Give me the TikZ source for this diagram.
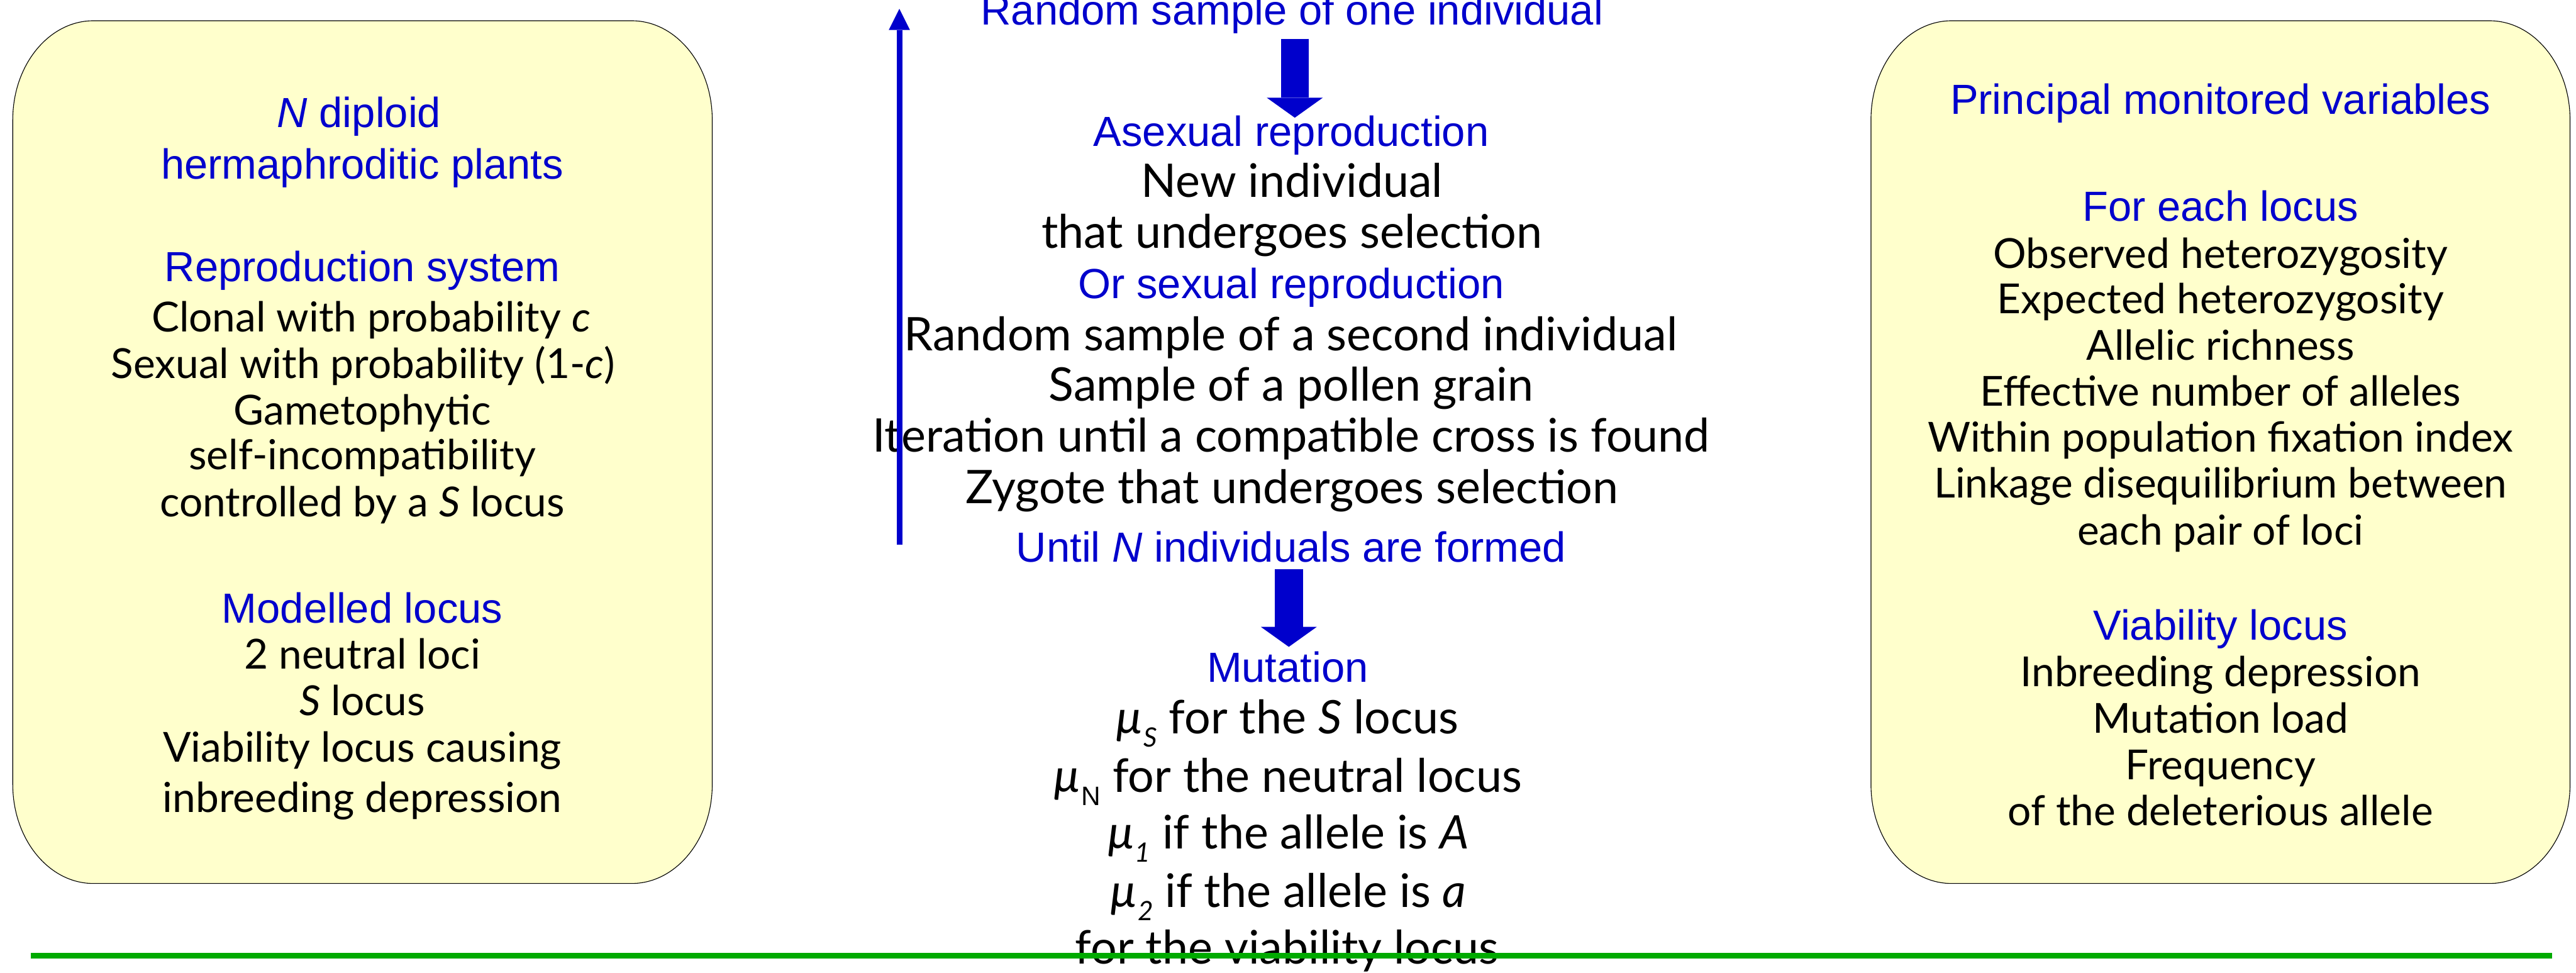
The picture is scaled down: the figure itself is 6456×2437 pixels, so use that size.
\documentclass[tikz,border=0pt]{standalone}
\usepackage{fontspec}
\setmainfont{Lato}
\newfontfamily\arialf{Liberation Sans}
\usetikzlibrary{arrows.meta}
\definecolor{hblue}{RGB}{0,0,204}
\definecolor{boxfill}{RGB}{255,255,204}
\definecolor{lgreen}{RGB}{0,170,0}
\newcommand{\mysub}[1]{\raisebox{-0.28em}{\fontsize{19}{20}\selectfont #1}}
\begin{document}
\begin{tikzpicture}[x=0.01cm,y=0.01cm,
  head/.style={text=hblue, font=\arialf\fontsize{30}{36}\selectfont, anchor=base, inner sep=0pt},
  sidetxt/.style={text=black, font=\fontsize{29.5}{35}\selectfont, anchor=base, inner sep=0pt},
  midtxt/.style={text=black, font=\fontsize{33}{38}\selectfont, anchor=base, inner sep=0pt},
  panel/.style={draw=black, line width=0.5pt, fill=boxfill},
  flowarrow/.style={draw=hblue, line width=0.14cm, -{Triangle[width=0.53cm,length=0.53cm,line width=0pt]}},
  blockarrow/.style={draw=hblue, line width=0.70cm, -{Triangle[width=1.40cm,length=0.50cm,line width=0pt]}},
  ground/.style={draw=lgreen, line width=0.14cm}
]
\useasboundingbox (0,0) rectangle (6456,-2437);
\clip (0,0) rectangle (6456,-2437);

% left panel
\path[panel] (234,-52) -- (1583,-52)
  arc[start angle=90,end angle=0,x radius=202,y radius=248] -- (1785,-1966)
  arc[start angle=0,end angle=-90,x radius=202,y radius=248] -- (234,-2214)
  arc[start angle=-90,end angle=-180,x radius=202,y radius=248] -- (32,-300)
  arc[start angle=180,end angle=90,x radius=202,y radius=248] -- cycle;

% right panel
\path[panel] (4891,-52) -- (6239,-52)
  arc[start angle=90,end angle=0,x radius=202,y radius=248] -- (6441,-1966)
  arc[start angle=0,end angle=-90,x radius=202,y radius=248] -- (4891,-2214)
  arc[start angle=-90,end angle=-180,x radius=202,y radius=248] -- (4689,-300)
  arc[start angle=180,end angle=90,x radius=202,y radius=248] -- cycle;

% left panel text
\node[head] (L1) at (900,-319) {\itshape N\upshape\ diploid};
\node[head] (L2) at (908,-448) {hermaphroditic plants};
\node[head] (L3) at (908,-705) {Reproduction system};
\node[sidetxt] (L4) at (930,-832) {Clonal with probability \textit{c}};
\node[sidetxt] (L5) at (910,-948) {Sexual with probability (1-\textit{c})};
\node[sidetxt] (L6) at (908,-1064) {Gametophytic};
\node[sidetxt] (L7) at (908,-1177) {self-incompatibility};
\node[sidetxt] (L8) at (908,-1295) {controlled by a \textit{S} locus};
\node[head] (L9) at (908,-1561) {Modelled locus};
\node[sidetxt] (L10) at (908,-1677) {2 neutral loci};
\node[sidetxt] (L11) at (908,-1793) {\textit{S} locus};
\node[sidetxt] (L12) at (908,-1910) {Viability locus causing};
\node[sidetxt] (L13) at (908,-2035) {inbreeding depression};

% right panel text
\node[head] (R1) at (5565,-286) {Principal monitored variables};
\node[head] (R2) at (5565,-554) {For each locus};
\node[sidetxt] (R3) at (5565,-672) {Observed heterozygosity};
\node[sidetxt] (R4) at (5565,-786) {Expected heterozygosity};
\node[sidetxt] (R5) at (5565,-902) {Allelic richness};
\node[sidetxt] (R6) at (5565,-1018) {Effective number of alleles};
\node[sidetxt] (R7) at (5565,-1132) {Within population fixation index};
\node[sidetxt] (R8) at (5565,-1248) {Linkage disequilibrium between};
\node[sidetxt] (R9) at (5565,-1366) {each pair of loci};
\node[head] (R10) at (5565,-1604) {Viability locus};
\node[sidetxt] (R11) at (5565,-1721) {Inbreeding depression};
\node[sidetxt] (R12) at (5565,-1837) {Mutation load};
\node[sidetxt] (R13) at (5565,-1953) {Frequency};
\node[sidetxt] (R14) at (5565,-2068) {of the deleterious allele};

% centre column
\node[head] (C1) at (3238,-62) {Random sample of one individual};
\node[head] (C2) at (3236,-367) {Asexual reproduction};
\node[midtxt] (C3) at (3238,-494) {New individual};
\node[midtxt] (C4) at (3238,-622) {that undergoes selection};
\node[head] (C5) at (3236,-748) {Or sexual reproduction};
\node[midtxt] (C6) at (3235,-879) {Random sample of a second individual};
\node[midtxt] (C7) at (3236,-1005) {Sample of a pollen grain};
\node[midtxt] (C8) at (3236,-1133) {Iteration until a compatible cross is found};
\node[midtxt] (C9) at (3238,-1261) {Zygote that undergoes selection};
\node[head] (C10) at (3236,-1408) {Until \textit{N} individuals are formed};
\node[head] (C11) at (3227,-1710) {Mutation};
\node[midtxt] (C12) at (3226,-1839) {\textit{µ}\mysub{\textit{S}} for the \textit{S} locus};
\node[midtxt] (C13) at (3227,-1985) {\textit{µ}\mysub{\arialf N} for the neutral locus};
\node[midtxt] (C14) at (3228,-2127) {\textit{µ}\mysub{\textit{1}} if the allele is \textit{A}};
\node[midtxt] (C15) at (3228,-2274) {\textit{µ}\mysub{\textit{2}} if the allele is \textit{a}};
\node[midtxt] (C16) at (3226,-2416) {for the viability locus};

% arrows
\coordinate (loopstart) at (2254,-1365);
\coordinate (loopend) at (2254,-22);
\draw[flowarrow] (loopstart) -- (loopend);

\coordinate (a1top) at (3245,-97);
\coordinate (a1tip) at (3245,-295);
\draw[blockarrow] (a1top) -- (a1tip);

\coordinate (a2top) at (3230,-1426);
\coordinate (a2tip) at (3230,-1621);
\draw[blockarrow] (a2top) -- (a2tip);

% ground line
\coordinate (g1) at (78,-2395);
\coordinate (g2) at (6396,-2395);
\draw[ground] (g1) -- (g2);
\end{tikzpicture}
\end{document}
